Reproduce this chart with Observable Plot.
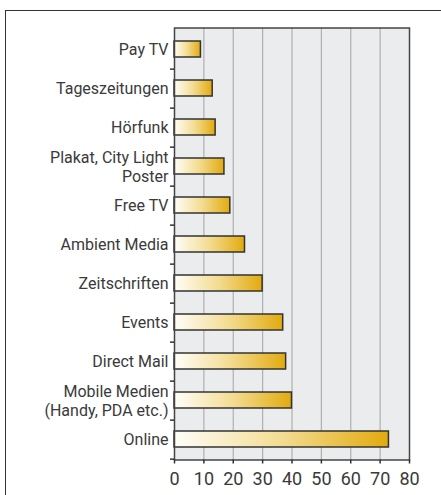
<!DOCTYPE html>
<html><head><meta charset="utf-8">
<script src="https://cdn.jsdelivr.net/npm/d3@7"></script>
<script src="https://cdn.jsdelivr.net/npm/@observablehq/plot@0.6"></script>
<style>
html,body{margin:0;padding:0;background:#fff;width:441px;height:495px;overflow:hidden;position:relative;}
#frame{position:absolute;left:5px;top:10px;width:470px;height:520px;border-left:1.5px solid #333;border-top:1.5px solid #333;}
#chart{position:absolute;left:0;top:0;}
</style></head><body>
<div id="frame"></div><div id="chart"></div>
<script>
const categories = [
  "Pay TV",
  "Tageszeitungen",
  "Hörfunk",
  "Plakat, City Light\nPoster",
  "Free TV",
  "Ambient Media",
  "Zeitschriften",
  "Events",
  "Direct Mail",
  "Mobile Medien\n(Handy, PDA etc.)",
  "Online"
];
const values = [9, 13, 14, 17, 19, 24, 30, 37, 38, 40, 73];
const xTicks = [0, 10, 20, 30, 40, 50, 60, 70, 80];

const data = categories.map((c, i) => ({category: c, value: values[i]}));

const W = 441, H = 495;
const mTop = 27.5, mBottom = 35.5, mLeft = 174, mRight = 32;
const step = (H - mTop - mBottom) / categories.length;
const bandH = 16;
const pInner = 1 - bandH / step;

const svg = Plot.plot({
  width: W,
  height: H,
  marginTop: mTop,
  marginBottom: mBottom,
  marginLeft: mLeft,
  marginRight: mRight,
  style: {fontFamily: "Roboto, 'Liberation Sans', sans-serif", fontSize: "16px", color: "#333", background: "transparent"},
  x: {domain: [0, 80]},
  y: {domain: categories, paddingInner: pInner, paddingOuter: pInner / 2},
  marks: [
    Plot.frame({fill: "#ebecee", stroke: null}),
    Plot.gridX(xTicks.slice(1, -1), {stroke: "#b0b0b0", strokeOpacity: 1, strokeWidth: 1.2}),
    Plot.barX(data, {x: "value", y: "category", fill: "url(#barGrad)", stroke: "#333", strokeWidth: 1.5}),
    Plot.frame({stroke: "#444", strokeWidth: 1.5}),
    Plot.axisY({tickSize: 0, tickPadding: 6, fontSize: 16, fill: "#3a3a3a", lineHeight: 1.15, label: null}),
    Plot.axisY({tickSize: 4, tickFormat: () => "", dy: step / 2, stroke: "#333", strokeWidth: 1.5, label: null}),
    Plot.axisX(xTicks, {tickSize: 4, tickPadding: 8, fontSize: 18, fill: "#3a3a3a", stroke: "#333", strokeWidth: 1.5, label: null})
  ]
});

const defs = d3.select(svg).insert("defs", ":first-child");
const g = defs.append("linearGradient").attr("id", "barGrad").attr("x1", "0").attr("x2", "1").attr("y1", "0").attr("y2", "0");
g.append("stop").attr("offset", "0%").attr("stop-color", "#fffef9");
g.append("stop").attr("offset", "50%").attr("stop-color", "#f3dc92");
g.append("stop").attr("offset", "100%").attr("stop-color", "#e2aa0e");

document.getElementById("chart").appendChild(svg);
</script>
</body></html>
